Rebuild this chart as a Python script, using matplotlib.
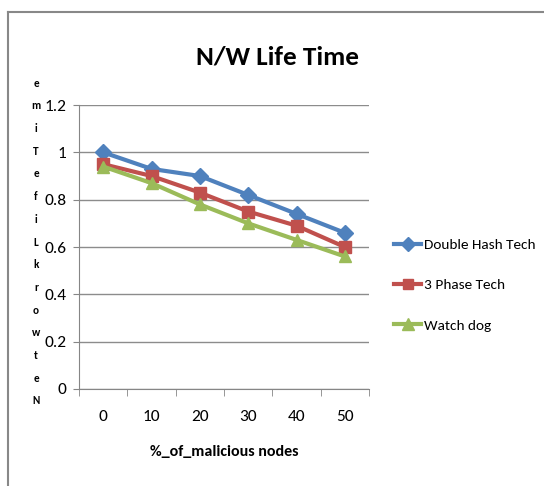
import matplotlib
matplotlib.use("Agg")
import matplotlib.pyplot as plt
from matplotlib.lines import Line2D

# data
nodes = ["0", "10", "20", "30", "40", "50"]
double_hash = [1.00, 0.93, 0.90, 0.82, 0.74, 0.66]
three_phase = [0.95, 0.90, 0.83, 0.75, 0.69, 0.60]
watch_dog = [0.94, 0.87, 0.78, 0.70, 0.63, 0.56]
y_ticks = [0, 0.2, 0.4, 0.6, 0.8, 1.0, 1.2]
y_tick_labels = ["0", "0.2", "0.4", "0.6", "0.8", "1", "1.2"]

# Carlito is metric compatible with Calibri (Excel look)
plt.rcParams['font.family'] = ['Carlito', 'DejaVu Sans']

fig = plt.figure(figsize=(5.44, 4.86), dpi=100)
fig.patch.set_facecolor("white")
ax = fig.add_axes([79 / 544, 1 - 389 / 486, 290 / 544, 284 / 486])

x = list(range(len(nodes)))
ax.plot(x, double_hash, color="#4F81BD", lw=3, marker="D", ms=8, label="Double Hash Tech", zorder=3)
ax.plot(x, three_phase, color="#C0504D", lw=3, marker="s", ms=8, label="3 Phase Tech", zorder=4)
ax.plot(x, watch_dog, color="#9BBB59", lw=3, marker="^", ms=9, label="Watch dog", zorder=5)

ax.set_xlim(-0.5, len(nodes) - 0.5)
ax.set_ylim(0, 1.2)
ax.set_yticks(y_ticks)
ax.set_yticklabels(y_tick_labels, fontsize=12.5)
ax.set_xticks(x)
ax.set_xticklabels(nodes, fontsize=12.5)
ax.set_xticks([i - 0.5 for i in range(len(nodes) + 1)], minor=True)
ax.tick_params(axis="x", which="major", length=0, pad=15)
ax.tick_params(axis="x", which="minor", length=5, color="#868686")
ax.tick_params(axis="y", length=4, color="#868686", pad=5)

ax.grid(axis="y", color="#8c8c8c", lw=1)
ax.set_axisbelow(True)
for s in ["top", "right"]:
    ax.spines[s].set_visible(False)
ax.spines["left"].set_color("#868686")
ax.spines["bottom"].set_color("#868686")

ax.set_xlabel("%_of_malicious nodes", fontsize=11.5, fontweight="bold", labelpad=15)

# title
fig.text(278 / 544, 1 - 57 / 486, "N/W Life Time", fontsize=19.5, fontweight="bold", ha="center", va="center")

# stacked y label (letters reversed, as in original)
ylabel = "NetworkLifeTime"
fig.text(36 / 544, 1 - 242 / 486, "\n".join(reversed(ylabel)), fontsize=8, fontweight="bold",
         ha="center", va="center", linespacing=2.3)

fig.legend(loc="center left", bbox_to_anchor=(380 / 544, 1 - 285 / 486), frameon=False,
           fontsize=11, handlelength=1.8, labelspacing=1.8, handletextpad=0.2, markerscale=0.9)

# outer chart frame
fig.add_artist(Line2D([8 / 544, 8 / 544], [0, 1 - 12 / 486], color="#888888", lw=1.5, transform=fig.transFigure))
fig.add_artist(Line2D([8 / 544, 1], [1 - 12 / 486, 1 - 12 / 486], color="#888888", lw=1.5, transform=fig.transFigure))

fig.savefig("out.png", dpi=100)
